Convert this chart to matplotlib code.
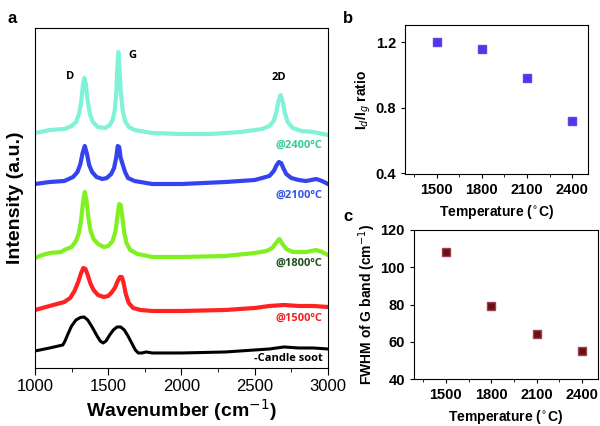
import numpy as np
import matplotlib.pyplot as plt
from matplotlib.ticker import MultipleLocator

plt.rcParams['font.family'] = ['Liberation Sans', 'DejaVu Sans']

########### Raman spectra (panel a), intensity in arbitrary units ###########

wn_2400 = [1000, 1100, 1200, 1250, 1280, 1300, 1315, 1327, 1337, 1347, 1360, 1375,
           1395, 1430, 1480, 1510, 1530, 1545, 1555, 1562, 1569, 1576, 1585, 1598,
           1615, 1640, 1680, 1800, 2000, 2200, 2400, 2450, 2550, 2600, 2630, 2648,
           2662, 2677, 2692, 2706, 2725, 2760, 2820, 2900, 3000]
int_2400 = [235, 238, 239, 242, 246, 254, 265, 283, 290, 284, 267, 254,
            246, 241, 240, 243, 248, 258, 275, 300, 316, 302, 278, 258,
            247, 241, 238, 235, 234, 234, 236, 237, 239, 242, 247, 256,
            267, 273, 266, 255, 246, 240, 237, 236, 233]

wn_2100 = [1000, 1100, 1200, 1260, 1290, 1310, 1325, 1340, 1355, 1370, 1390, 1420,
           1460, 1490, 1520, 1540, 1555, 1565, 1575, 1585, 1600, 1615, 1635, 1680,
           1800, 2000, 2300, 2500, 2550, 2600, 2630, 2650, 2665, 2680, 2695, 2715,
           2750, 2800, 2850, 2920, 2960, 3000]
int_2100 = [184, 186, 187, 191, 196, 204, 215, 222, 214, 203, 196, 191,
            189, 190, 194, 200, 211, 222, 221, 210, 203, 196, 190, 187,
            184, 184, 186, 188, 190, 192, 197, 203, 206, 205, 200, 194,
            190, 188, 187, 189, 187, 184]

wn_1800 = [1000, 1050, 1100, 1180, 1200, 1250, 1280, 1300, 1315, 1328, 1340, 1352,
           1365, 1380, 1400, 1430, 1470, 1500, 1530, 1550, 1563, 1575, 1585, 1597,
           1610, 1625, 1650, 1700, 1800, 2000, 2300, 2500, 2580, 2620, 2645, 2668,
           2690, 2715, 2760, 2850, 2920, 2960, 3000]
int_1800 = [110, 113, 115, 116, 118, 121, 127, 135, 148, 166, 176, 167,
            150, 137, 129, 124, 121, 122, 127, 137, 152, 164, 163, 150,
            135, 125, 118, 114, 111, 111, 112, 115, 117, 120, 125, 129,
            124, 119, 116, 116, 118, 116, 113]

wn_1500 = [1000, 1100, 1200, 1240, 1270, 1295, 1315, 1330, 1345, 1360, 1380, 1400,
           1430, 1470, 1500, 1520, 1545, 1565, 1580, 1593, 1605, 1620, 1640, 1670,
           1720, 1800, 2000, 2300, 2500, 2600, 2700, 2800, 2900, 3000]
int_1500 = [58, 62, 66, 70, 77, 86, 95, 100, 99, 93, 84, 78,
            73, 71, 72, 75, 80, 87, 91, 91, 85, 74, 65, 60,
            58, 57, 57, 58, 60, 62, 63, 62, 62, 61]

wn_soot = [1000, 1100, 1190, 1205, 1225, 1250, 1280, 1310, 1335, 1360, 1390, 1420,
           1445, 1465, 1485, 1510, 1535, 1560, 1585, 1610, 1635, 1660, 1685, 1705,
           1730, 1760, 1800, 2000, 2300, 2500, 2600, 2700, 2800, 2900, 3000]
int_soot = [17, 20, 23, 27, 34, 42, 48, 50.5, 51, 48, 41, 33,
            27, 25, 27, 33, 38, 41, 41, 38, 32, 25, 18, 15,
            15, 16, 15, 15, 16, 18, 19, 21, 20, 20, 19]

spectra = [(wn_soot, int_soot, 'black', 2.2),
           (wn_1500, int_1500, '#ff2222', 3.0),
           (wn_1800, int_1800, '#80f020', 3.0),
           (wn_2100, int_2100, '#3344ee', 3.0),
           (wn_2400, int_2400, '#80f2d8', 3.0)]

labels = ['-Candle soot', '@1500ºC', '@1800ºC', '@2100ºC', '@2400ºC']
label_y = [9, 50, 105, 173, 223]
label_col = ['black', '#ee2222', '#1f4f1f', '#3355ee', '#33cc99']

########### Panels b and c ###########

temps = [1500, 1800, 2100, 2400]
id_ig = [1.20, 1.16, 0.98, 0.72]
fwhm_g = [108, 79, 64, 55]

fig = plt.figure(figsize=(6, 4.26), dpi=100)

ax = fig.add_axes([0.0583, 0.1362, 0.4883, 0.798])
for x, y, c, lw in spectra:
    ax.plot(x, y, color=c, lw=lw, solid_joinstyle='round')
for t, yy, c in zip(labels, label_y, label_col):
    ax.text(2962, yy, t, color=c, fontsize=8, fontweight='bold',
            ha='right', va='center', family=['Open Sans', 'DejaVu Sans'])
ax.text(1239, 292, 'D', fontsize=8, fontweight='bold', ha='center', va='center',
        family=['Open Sans', 'DejaVu Sans'])
ax.text(1667, 313, 'G', fontsize=8, fontweight='bold', ha='center', va='center',
        family=['Open Sans', 'DejaVu Sans'])
ax.text(2666, 291, '2D', fontsize=8, fontweight='bold', ha='center', va='center',
        family=['Open Sans', 'DejaVu Sans'])
ax.set_xlim(1000, 3000)
ax.set_ylim(0, 340)
ax.set_yticks([])
ax.xaxis.set_major_locator(MultipleLocator(500))
ax.xaxis.set_minor_locator(MultipleLocator(250))
ax.tick_params(axis='x', which='major', length=5, labelsize=12, pad=3)
ax.tick_params(axis='x', which='minor', length=3)
ax.set_xlabel('Wavenumber (cm$^{-1}$)', fontsize=14, fontweight='bold', labelpad=2)
ax.set_ylabel('Intensity (a.u.)', fontsize=14, fontweight='bold', labelpad=8)

axb = fig.add_axes([0.675, 0.5915, 0.305, 0.3498])
axb.plot(temps, id_ig, 's', color='#5533ee', ms=6, mec='#5a48e0')
axb.set_xlim(1290, 2505)
axb.set_ylim(0.394, 1.305)
axb.set_yticks([0.4, 0.8, 1.2])
axb.set_xticks(temps)
axb.xaxis.set_minor_locator(MultipleLocator(150))
axb.set_xlabel('Temperature ($^{\\circ}$C)', fontsize=10, fontweight='bold')
axb.set_ylabel('I$_d$/I$_g$ ratio', fontsize=10, fontweight='bold', labelpad=2)

axc = fig.add_axes([0.69, 0.1103, 0.3067, 0.3498])
axc.plot(temps, fwhm_g, 's', color='#6a0f14', ms=6, mec='#a04050')
axc.set_xlim(1290, 2505)
axc.set_ylim(40, 120)
axc.set_yticks([40, 60, 80, 100, 120])
axc.set_xticks(temps)
axc.xaxis.set_minor_locator(MultipleLocator(150))
axc.set_xlabel('Temperature ($^{\\circ}$C)', fontsize=10, fontweight='bold')
axc.set_ylabel('FWHM of G band (cm$^{-1}$)', fontsize=10, fontweight='bold', labelpad=2)

for a in (axb, axc):
    a.tick_params(which='major', length=3, labelsize=10.5)
    a.tick_params(which='minor', length=2)
    for lab in a.get_xticklabels() + a.get_yticklabels():
        lab.set_fontweight('bold')

fig.text(0.013, 0.975, 'a', fontsize=12, fontweight='bold', va='top')
fig.text(0.572, 0.975, 'b', fontsize=12, fontweight='bold', va='top')
fig.text(0.572, 0.51, 'c', fontsize=12, fontweight='bold', va='top')

fig.savefig('out.png', dpi=100)
